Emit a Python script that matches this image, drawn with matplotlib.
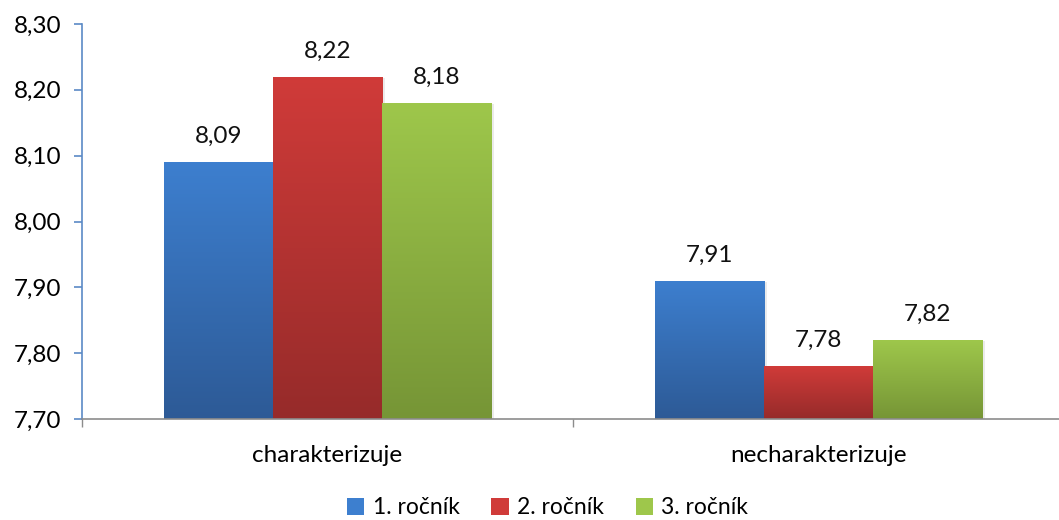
import numpy as np
import matplotlib
matplotlib.use("Agg")
import matplotlib.pyplot as plt
from matplotlib.colors import LinearSegmentedColormap
from matplotlib.patches import Patch

plt.rcParams['font.family'] = ['Lato', 'DejaVu Sans']

# data
kategorie = ['charakterizuje', 'necharakterizuje']
rocniky = ['1. ročník', '2. ročník', '3. ročník']
hodnoty = {
    '1. ročník': [8.09, 7.91],
    '2. ročník': [8.22, 7.78],
    '3. ročník': [8.18, 7.82],
}
# (horni, dolni) barva prechodu
barvy = {
    '1. ročník': ('#3D7FCF', '#2D5A96'),
    '2. ročník': ('#D03B39', '#962B2A'),
    '3. ročník': ('#9EC74B', '#769536'),
}
y_ticks = [7.70, 7.80, 7.90, 8.00, 8.10, 8.20, 8.30]

fs = 17.5
fig = plt.figure(figsize=(10.59, 5.2), dpi=100)
ax = fig.add_axes([82/1059, 1-419/520, 982/1059, 395/520])

ymin, ymax = 7.70, 8.30
sirka = 0.2222
x = np.arange(len(kategorie))

for i, r in enumerate(rocniky):
    pos = x + (i - 1) * sirka
    bars = ax.bar(pos, [v - ymin for v in hodnoty[r]], sirka, bottom=ymin,
                  color='none', edgecolor='none', zorder=2)
    cmap = LinearSegmentedColormap.from_list(r, [barvy[r][1], barvy[r][0]])
    for b, v in zip(bars, hodnoty[r]):
        x0 = b.get_x()
        # jemny stin vpravo
        sh = plt.Rectangle((x0 + 0.006, ymin), sirka, v - ymin - 0.002,
                           color='#000000', alpha=0.08, zorder=1, lw=0)
        ax.add_patch(sh)
        grad = np.linspace(0, 1, 256).reshape(-1, 1)
        im = ax.imshow(grad, cmap=cmap, origin='lower', aspect='auto',
                       extent=[x0, x0 + sirka, ymin, v], zorder=2)
        im.set_clip_path(b)
        ax.annotate(f'{v:.2f}'.replace('.', ','), (b.get_x() + sirka/2, v),
                    xytext=(0, 11), textcoords='offset points',
                    ha='center', va='bottom', fontsize=fs, color='#111111')

ax.set_xlim(-0.5, 1.5)
ax.set_ylim(ymin, ymax)
ax.set_yticks(y_ticks)
ax.set_yticklabels([f'{t:.2f}'.replace('.', ',') for t in y_ticks], fontsize=fs)
ax.set_xticks([-0.5, 0.5, 1.5])
ax.set_xticklabels([])
ax.set_xticks(x, minor=True)
ax.set_xticklabels(kategorie, minor=True, fontsize=fs)
ax.tick_params(axis='x', which='minor', length=0, pad=19)
ax.tick_params(axis='x', which='major', length=6, color='#8C8C8C', width=1)
ax.tick_params(axis='y', length=6, color='#5B8AC6', width=1.2, pad=9)

for s in ['top', 'right']:
    ax.spines[s].set_visible(False)
ax.spines['left'].set_color('#5B8AC6')
ax.spines['left'].set_linewidth(1.2)
ax.spines['bottom'].set_color('#8C8C8C')
ax.spines['bottom'].set_linewidth(1.2)
ax.spines['bottom'].set_zorder(3)

handles = [Patch(facecolor=barvy[r][0], label=r) for r in rocniky]
fig.legend(handles=handles, loc='center', bbox_to_anchor=(0.517, 1-508/520),
           ncol=3, frameon=False, fontsize=16.5, handlelength=0.75, handleheight=0.75,
           handletextpad=0.35, columnspacing=1.4)

fig.savefig('out.png', dpi=100)
